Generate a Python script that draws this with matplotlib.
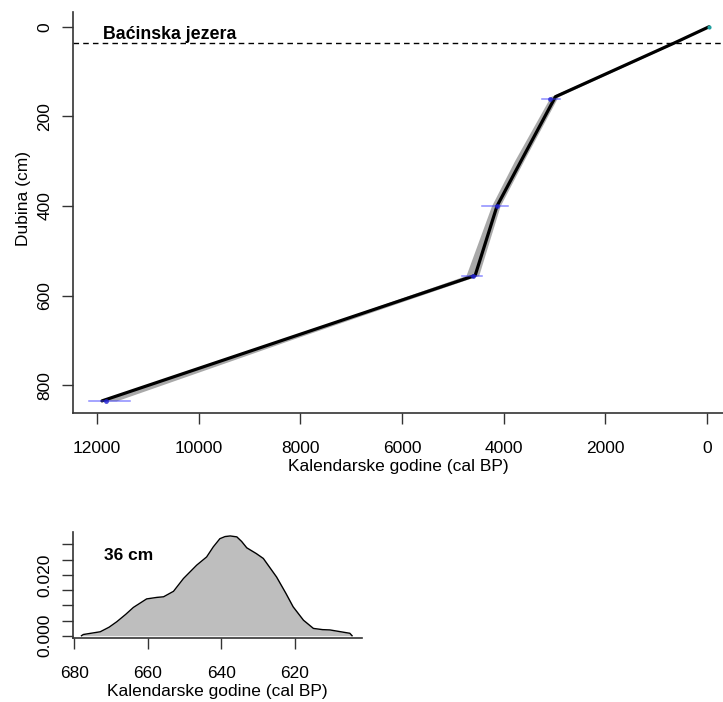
import matplotlib
matplotlib.use("Agg")
import matplotlib.pyplot as plt
import numpy as np

plt.rcParams['font.family'] = ['Liberation Sans', 'DejaVu Sans']

# ---- age-depth model ----
model_depth = [0, 36, 156, 300, 400, 555, 700, 835]
model_median = [-40, 640, 2980, 3660, 4130, 4560, 8360, 11900]
model_old = [-35, 660, 3080, 3790, 4240, 4740, 8400, 11950]
model_young = [-45, 620, 2930, 3610, 4070, 4490, 8220, 11620]

# ---- dated levels ----
date_depth = [161, 400, 556, 835]
date_age = [3080, 4130, 4610, 11830]
date_err_old = [3244, 4420, 4820, 12160]
date_err_young = [2883, 3909, 4420, 11340]
surface_depth = [0]
surface_age = [-40]

marker_depth = 36
site_label = "Baćinska jezera"

# ---- density at 36 cm ----
dens_year = [678.0, 677.5, 672.9, 670.5, 668.4, 666.0, 663.9, 660.3, 657.5, 655.7, 653.0,
             650.3, 646.7, 644.0, 642.2, 640.4, 639.0, 637.6, 635.8, 634.5, 633.1, 630.5,
             628.6, 625.0, 622.5, 620.5, 617.7, 615.0, 612.5, 610.5, 605.1, 604.5]
dens_val = [0.0, 0.0004, 0.0013, 0.0028, 0.0046, 0.0070, 0.0093, 0.0121, 0.0126, 0.0128,
            0.0146, 0.0188, 0.0232, 0.0259, 0.0292, 0.0319, 0.0326, 0.0328, 0.0325, 0.0310,
            0.0289, 0.0270, 0.0254, 0.0193, 0.0140, 0.0095, 0.0051, 0.0024, 0.0020, 0.0019,
            0.0008, 0.0]

W, H = 723, 702
fig = plt.figure(figsize=(W / 100, H / 100), dpi=100)

def frac(l, t, r, b):
    return [l / W, 1 - b / H, (r - l) / W, (b - t) / H]

ax = fig.add_axes(frac(73, 12, 723, 413))
ax.fill_betweenx(model_depth, model_young, model_old, color='#A9A9A9', lw=0, zorder=1)
ax.plot(model_median, model_depth, color='black', lw=2.3, zorder=3, solid_capstyle='round')
for d, a, o, y in zip(date_depth, date_age, date_err_old, date_err_young):
    ax.plot([o, y], [d, d], color='#4040ff', alpha=0.6, lw=1.1, zorder=4)
ax.plot(date_age, date_depth, 'o', color='#2020d0', ms=3.5, alpha=0.8, zorder=5, mec='none')
ax.plot(surface_age, surface_depth, 'o', color='#20a0a0', ms=3, zorder=5, mec='none')
ax.axhline(marker_depth, color='black', lw=1, ls=(0, (4, 3)), zorder=2)
ax.text(11880, 28, site_label, fontsize=12.8, fontweight='bold', ha='left', va='baseline')

ax.set_xlim(12470, -315)
ax.set_ylim(862, -33)
ax.set_xticks([12000, 10000, 8000, 6000, 4000, 2000, 0])
ax.set_yticks([0, 200, 400, 600, 800])
for lab in ax.get_yticklabels():
    lab.set_rotation(90)
    lab.set_va('center')
ax.tick_params(direction='out', length=8, width=1, labelsize=12.5, color='#333333')
ax.tick_params(axis='x', pad=12)
ax.tick_params(axis='y', pad=7)
for s in ['top', 'right']:
    ax.spines[s].set_visible(False)
for s in ['left', 'bottom']:
    ax.spines[s].set_color('#333333')
    ax.spines[s].set_linewidth(1.2)
ax.set_xlabel('Kalendarske godine (cal BP)', fontsize=12.5, labelpad=2)
ax.set_ylabel('Dubina (cm)', fontsize=12.5)
ax.yaxis.set_label_coords(-0.065, 0.534)

# ---- small density plot ----
ax2 = fig.add_axes(frac(73, 532, 362, 638))
ax2.fill_between(dens_year, dens_val, 0, color='#BEBEBE', lw=0)
ax2.plot(dens_year, dens_val, color='black', lw=1)
ax2.set_xlim(680.3, 601.8)
ax2.set_ylim(-0.00075, 0.0341)
ax2.set_xticks([680, 660, 640, 620])
ax2.set_yticks([0, 0.005, 0.010, 0.015, 0.020, 0.025, 0.030])
ax2.set_yticklabels(['0.000', '', '', '', '0.020', '', ''], rotation=90, va='center')
ax2.tick_params(direction='out', length=8, width=1, labelsize=12.5, color='#333333')
ax2.tick_params(axis='x', pad=12)
ax2.tick_params(axis='y', pad=7)
for s in ['top', 'right']:
    ax2.spines[s].set_visible(False)
for s in ['left', 'bottom']:
    ax2.spines[s].set_color('#333333')
    ax2.spines[s].set_linewidth(1.2)
ax2.set_xlabel('Kalendarske godine (cal BP)', fontsize=12.5, labelpad=2)
ax2.text(671.9, 0.0265, f'{marker_depth} cm', fontsize=12.5, fontweight='bold', ha='left', va='center')

fig.savefig('out.png', dpi=100)
